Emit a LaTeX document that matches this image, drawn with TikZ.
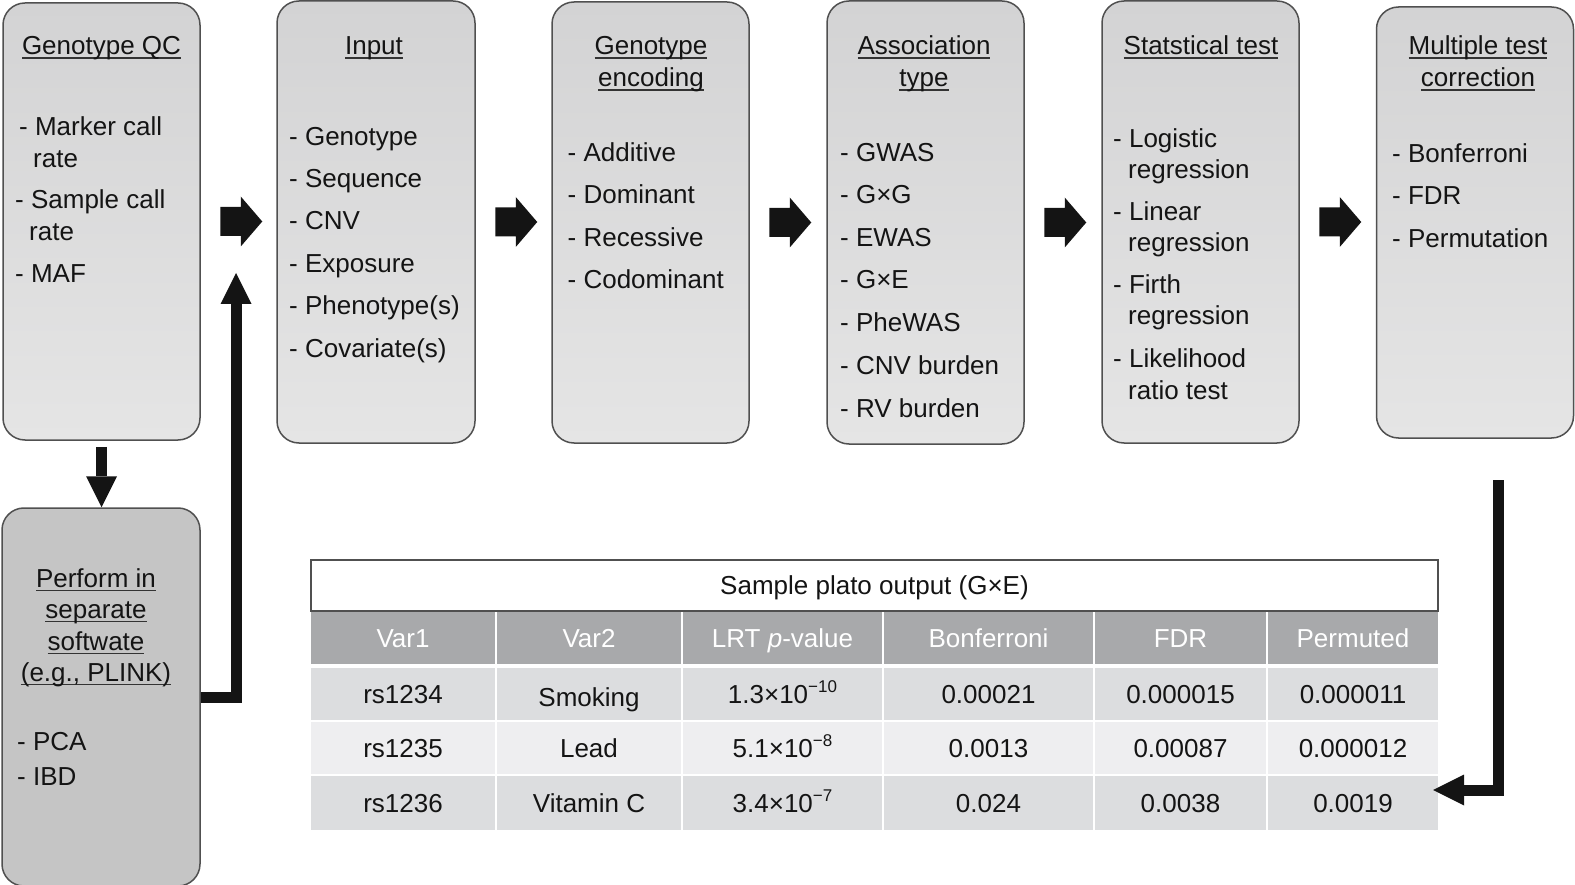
\documentclass[tikz,border=0pt]{standalone}
\usepackage{fontspec}
\setmainfont{Liberation Sans}
\usetikzlibrary{arrows.meta}
\definecolor{boxtop}{HTML}{D3D3D4}
\definecolor{boxbot}{HTML}{E5E5E5}
\definecolor{pfc}{HTML}{C5C5C5}
\definecolor{hdr}{HTML}{A8A9AB}
\definecolor{rowA}{HTML}{DCDDDF}
\definecolor{rowB}{HTML}{EEEEF0}
\definecolor{txtc}{HTML}{141414}
\definecolor{bord}{HTML}{505050}
\definecolor{arrc}{HTML}{141414}
\definecolor{ulc}{HTML}{333333}
\newcommand\uln[1]{\setbox0\hbox{#1}\rlap{\color{ulc}\rule[-3.8pt]{\wd0}{1.5pt}}\box0}
\newcommand\expo[1]{\raisebox{10.5pt}{\fontsize{17}{17}\selectfont #1}}
\begin{document}
\begin{tikzpicture}[x=1pt,y=-1pt,
  box/.style={draw=bord, line width=1.5pt, rounded corners=22pt, top color=boxtop, bottom color=boxbot, inner sep=0pt},
  ttl/.style={anchor=base, inner sep=0pt, font=\fontsize{26}{31}\selectfont, text=txtc},
  itm/.style={anchor=base west, inner sep=0pt, font=\fontsize{26}{31}\selectfont, text=txtc},
  cell/.style={inner sep=0pt, text height=18pt, text depth=0pt, minimum height=52pt, font=\fontsize{26}{31}\selectfont, text=txtc},
  hcell/.style={cell, fill=hdr, text=white},
  c1/.style={minimum width=184pt}, c2/.style={minimum width=184pt}, c3/.style={minimum width=199pt},
  c4/.style={minimum width=209pt}, c5/.style={minimum width=171pt}, c6/.style={minimum width=170pt},
  blk/.style={fill=arrc},
  thk/.style={line width=10.5pt, draw=arrc, -{Triangle[length=31pt,width=31pt,line width=0pt]}}
]
\useasboundingbox (0,0) rectangle (1575,885);

% ---- top boxes
\node[box, minimum width=197pt, minimum height=437pt] (qc)  at (101.5,221.5) {};
\node[box, minimum width=198pt, minimum height=442pt] (in)  at (376,222) {};
\node[box, minimum width=197pt, minimum height=441pt] (enc) at (650.5,222.5) {};
\node[box, minimum width=197pt, minimum height=443pt] (as)  at (925.5,222.5) {};
\node[box, minimum width=197pt, minimum height=442pt] (st)  at (1200.5,222) {};
\node[box, minimum width=197pt, minimum height=431pt] (mt)  at (1475,222.5) {};
% ---- bottom-left box
\node[draw=bord, line width=1.5pt, rounded corners=22pt, fill=pfc, inner sep=0pt, minimum width=198pt, minimum height=378pt] (pf) at (101,697) {};

% ---- box 1
\node[ttl] (qc-t) at (101.5,55) {\uln{Genotype QC}};
\node[itm] (qc-1)  at (19,135.5) {- Marker call};
\node[itm] (qc-1b) at (33,167.5) {rate};
\node[itm] (qc-2)  at (15,208.5) {- Sample call};
\node[itm] (qc-2b) at (29,240.5) {rate};
\node[itm] (qc-3)  at (15,282.5) {- MAF};
% ---- box 2
\node[ttl] (in-t) at (374,55) {\uln{Input}};
\node[itm] (in-1) at (289,146) {- Genotype};
\node[itm] (in-2) at (289,188) {- Sequence};
\node[itm] (in-3) at (289,230) {- CNV};
\node[itm] (in-4) at (289,273) {- Exposure};
\node[itm] (in-5) at (289,315) {- Phenotype(s)};
\node[itm] (in-6) at (289,358) {- Covariate(s)};
% ---- box 3
\node[ttl] (enc-t1) at (651,55) {\uln{Genotype}};
\node[ttl] (enc-t2) at (651,87) {\uln{encoding}};
\node[itm] (enc-1) at (567.5,162) {- Additive};
\node[itm] (enc-2) at (567.5,204) {- Dominant};
\node[itm] (enc-3) at (567.5,247) {- Recessive};
\node[itm] (enc-4) at (567.5,289) {- Codominant};
% ---- box 4
\node[ttl] (as-t1) at (924,55) {\uln{Association}};
\node[ttl] (as-t2) at (924,87) {\uln{type}};
\node[itm] (as-1) at (840,161.5) {- GWAS};
\node[itm] (as-2) at (840,203.5) {- G×G};
\node[itm] (as-3) at (840,246.5) {- EWAS};
\node[itm] (as-4) at (840,288.5) {- G×E};
\node[itm] (as-5) at (840,331.5) {- PheWAS};
\node[itm] (as-6) at (840,374.5) {- CNV burden};
\node[itm] (as-7) at (840,417.5) {- RV burden};
% ---- box 5
\node[ttl] (st-t) at (1201,55) {\uln{Statstical test}};
\node[itm] (st-1)  at (1113,148) {- Logistic};
\node[itm] (st-1b) at (1128,178.5) {regression};
\node[itm] (st-2)  at (1113,221) {- Linear};
\node[itm] (st-2b) at (1128,251.5) {regression};
\node[itm] (st-3)  at (1113,294) {- Firth};
\node[itm] (st-3b) at (1128,324.5) {regression};
\node[itm] (st-4)  at (1113,368) {- Likelihood};
\node[itm] (st-4b) at (1128,399.5) {ratio test};
% ---- box 6
\node[ttl] (mt-t1) at (1478,55) {\uln{Multiple test}};
\node[ttl] (mt-t2) at (1478,87) {\uln{correction}};
\node[itm] (mt-1) at (1392,163) {- Bonferroni};
\node[itm] (mt-2) at (1392,205) {- FDR};
\node[itm] (mt-3) at (1392,248) {- Permutation};
% ---- bottom-left box text
\node[ttl] (pf-t1) at (96,587.5) {\uln{Perform in}};
\node[ttl] (pf-t2) at (96,618.5) {\uln{separate}};
\node[ttl] (pf-t3) at (96,650.5) {\uln{softwate}};
\node[ttl] (pf-t4) at (96,681.5) {\uln{(e.g., PLINK)}};
\node[itm] (pf-1) at (17,750.5) {- PCA};
\node[itm] (pf-2) at (17,785.5) {- IBD};

% ---- table
\node[cell, draw=bord, line width=1.5pt, fill=white, minimum width=1127pt, minimum height=51pt, text height=17pt] (tt) at (874.5,585.5) {Sample plato output (G×E)};
\node[hcell, c1] (h1) at (403,638) {Var1};
\node[hcell, c2] (h2) at (589,638) {Var2};
\node[hcell, c3] (h3) at (782.5,638) {LRT \textit{p}-value};
\node[hcell, c4] (h4) at (988.5,638) {Bonferroni};
\node[hcell, c5] (h5) at (1180.5,638) {FDR};
\node[hcell, c6] (h6) at (1353,638) {Permuted};

\node[cell, c1, fill=rowA] (r1c1) at (403,694) {rs1234};
\node[cell, c2, fill=rowA] (r1c2) at (589,694) {\raisebox{-3pt}{Smoking}};
\node[cell, c3, fill=rowA] (r1c3) at (782.5,694) {1.3×10\expo{−10}};
\node[cell, c4, fill=rowA] (r1c4) at (988.5,694) {0.00021};
\node[cell, c5, fill=rowA] (r1c5) at (1180.5,694) {0.000015};
\node[cell, c6, fill=rowA] (r1c6) at (1353,694) {0.000011};

\node[cell, c1, fill=rowB] (r2c1) at (403,748) {rs1235};
\node[cell, c2, fill=rowB] (r2c2) at (589,748) {Lead};
\node[cell, c3, fill=rowB] (r2c3) at (782.5,748) {5.1×10\expo{−8}};
\node[cell, c4, fill=rowB] (r2c4) at (988.5,748) {0.0013};
\node[cell, c5, fill=rowB] (r2c5) at (1180.5,748) {0.00087};
\node[cell, c6, fill=rowB] (r2c6) at (1353,748) {0.000012};

\node[cell, c1, fill=rowA, minimum height=54pt] (r3c1) at (403,803) {rs1236};
\node[cell, c2, fill=rowA, minimum height=54pt] (r3c2) at (589,803) {Vitamin C};
\node[cell, c3, fill=rowA, minimum height=54pt] (r3c3) at (782.5,803) {3.4×10\expo{−7}};
\node[cell, c4, fill=rowA, minimum height=54pt] (r3c4) at (988.5,803) {0.024};
\node[cell, c5, fill=rowA, minimum height=54pt] (r3c5) at (1180.5,803) {0.0038};
\node[cell, c6, fill=rowA, minimum height=54pt] (r3c6) at (1353,803) {0.0019};

% ---- connectors: block arrows between the top boxes
\foreach \a in {qc,in,enc,as,st}{
  \fill[blk] ([xshift=19.5pt]\a.east) ++(0,-14.5) -- ++(20.5,0) -- ++(0,-10.5)
     -- ++(21.5,25) -- ++(-21.5,25) -- ++(0,-10.5) -- ++(-20.5,0) -- cycle;
}

\draw[thk, shorten <=6pt] (qc.south) -- (qc.south |- pf.north);
\coordinate (inArr) at (236,273);
\draw[thk, line width=11pt] (pf.east) -| (inArr);
\coordinate (mtOut) at (1498,480);
\coordinate (tabIn) at (1433,790);
\draw[thk, line width=11pt] (mtOut) |- (tabIn);
\end{tikzpicture}
\end{document}
